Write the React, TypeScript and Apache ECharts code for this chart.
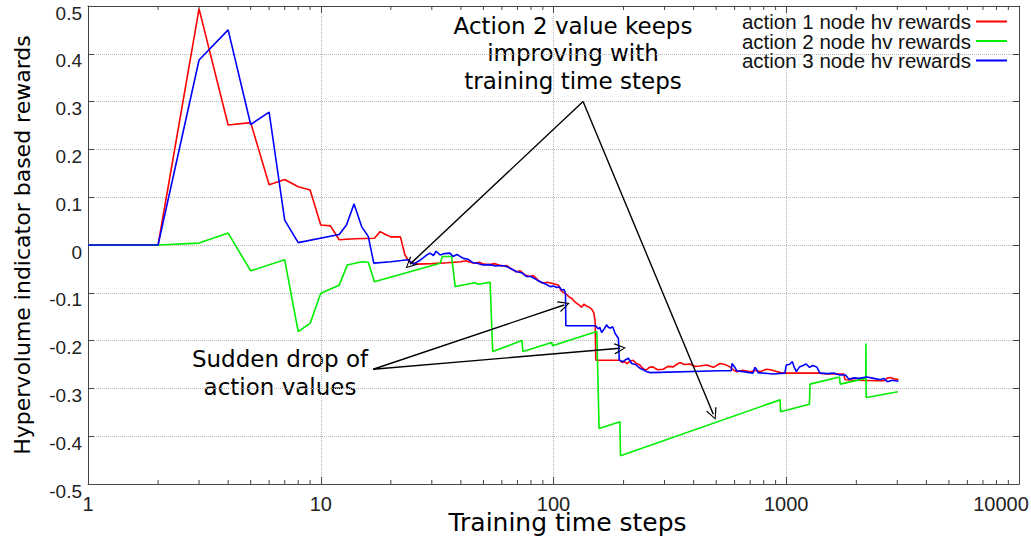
import React, { useEffect, useRef } from "react";
import * as echarts from "echarts";

const seriesNames = [
  "action 1 node hv rewards",
  "action 2 node hv rewards",
  "action 3 node hv rewards",
];
const seriesColors = ["#ff0000", "#00ee00", "#0000ff"];

const action1: [number, number][] = [
  [1, 0], [2, 0], [3, 0.494], [4, 0.251], [5, 0.256], [6, 0.126], [7, 0.137], [8, 0.122],
  [9, 0.115], [10, 0.042], [11, 0.04], [12, 0.011], [14, 0.013], [17, 0.014], [18, 0.028],
  [19, 0.022], [20, 0.017], [22, 0.017], [23, -0.021], [24, -0.035], [26, -0.04], [30, -0.039],
  [35, -0.037], [40, -0.035], [42, -0.033], [44, -0.036], [46, -0.038], [48, -0.036],
  [50, -0.04], [53, -0.041], [56, -0.039], [60, -0.044], [63, -0.043], [66, -0.05],
  [69, -0.056], [72, -0.054], [75, -0.062], [79, -0.066], [82, -0.064], [86, -0.074],
  [90, -0.08], [94, -0.078], [98, -0.08], [102, -0.082], [105, -0.084], [108, -0.096],
  [111, -0.1], [114, -0.104], [117, -0.109], [120, -0.112], [123, -0.118], [126, -0.122],
  [129, -0.126], [132, -0.13], [135, -0.124], [138, -0.127], [142, -0.13], [146, -0.134],
  [149, -0.142], [151, -0.16], [152, -0.241], [175, -0.241], [193, -0.241], [197, -0.246],
  [202, -0.244], [207, -0.248], [213, -0.243], [220, -0.241], [227, -0.248], [235, -0.251],
  [242, -0.258], [250, -0.262], [258, -0.256], [267, -0.255], [280, -0.261], [296, -0.26],
  [310, -0.254], [327, -0.255], [338, -0.25], [349, -0.246], [365, -0.25], [386, -0.249],
  [405, -0.254], [425, -0.253], [455, -0.251], [486, -0.256], [520, -0.248], [545, -0.25],
  [574, -0.255], [595, -0.262], [614, -0.265], [650, -0.262], [700, -0.265], [740, -0.262],
  [774, -0.265], [820, -0.26], [855, -0.261], [900, -0.264], [945, -0.267], [1000, -0.268],
  [1395, -0.268], [1445, -0.269], [1597, -0.27], [1767, -0.27], [1790, -0.282], [2000, -0.283],
  [2500, -0.284], [2650, -0.284], [2700, -0.279], [2800, -0.277], [2900, -0.28], [3000, -0.281],
  [3030, -0.283],
];

const action2: [number, number][] = [
  [1, 0], [2, 0], [3, 0.004], [4, 0.025], [5, -0.054], [7, -0.031], [8, -0.181], [9, -0.164],
  [10, -0.101], [12, -0.084], [13, -0.042], [15, -0.035], [16, -0.036], [17, -0.077],
  [32.6, -0.038], [33.3, -0.024], [36.5, -0.024], [37.8, -0.087], [46, -0.079], [47.5, -0.082],
  [53.4, -0.078], [54.8, -0.223], [73.1, -0.2], [74, -0.223], [98.3, -0.204], [99, -0.211],
  [153.5, -0.181], [157, -0.384], [193, -0.37], [194, -0.441], [941, -0.324], [945, -0.349],
  [1258, -0.333], [1265, -0.291], [1693, -0.276], [1705, -0.291], [2195, -0.279], [2200, -0.206],
  [2205, -0.319], [3016, -0.307],
];

const action3: [number, number][] = [
  [1, 0], [2, 0], [3, 0.387], [4, 0.45], [5, 0.252], [6, 0.278], [7, 0.052], [8, 0.005],
  [12, 0.022], [12.9, 0.042], [13.9, 0.086], [15, 0.038], [16, 0.018], [16.9, -0.038],
  [20, -0.035], [23.7, -0.031], [25, -0.04], [26.5, -0.033], [28.5, -0.021], [29.5, -0.017],
  [30.5, -0.022], [31.3, -0.013], [32.6, -0.021], [34, -0.018], [35.9, -0.017], [37, -0.024],
  [38.5, -0.02], [41, -0.028], [43, -0.03], [45, -0.037], [47, -0.038], [49.7, -0.042],
  [53, -0.041], [56.5, -0.044], [60, -0.043], [62.7, -0.045], [66, -0.05], [69.5, -0.056],
  [73, -0.058], [76.6, -0.066], [80, -0.066], [84, -0.072], [87.6, -0.077], [92, -0.081],
  [96.9, -0.087], [100, -0.086], [103.3, -0.089], [106, -0.088], [108.5, -0.094], [111, -0.093],
  [112.6, -0.101], [113, -0.169], [151.8, -0.169], [155.8, -0.176], [158, -0.172], [161, -0.183],
  [165, -0.176], [169, -0.167], [172, -0.172], [174.8, -0.174], [179.6, -0.171], [184, -0.185],
  [190, -0.195], [191.7, -0.241], [199.5, -0.244], [204, -0.24], [209.7, -0.237], [216.7, -0.248],
  [225, -0.25], [235.6, -0.258], [252, -0.265], [260.6, -0.267], [520, -0.263], [580, -0.263],
  [585, -0.248], [600, -0.255], [612, -0.263], [720, -0.268], [733, -0.256], [745, -0.26],
  [757, -0.267], [880, -0.27], [987, -0.268], [1000, -0.251], [1030, -0.25], [1063, -0.244],
  [1080, -0.255], [1105, -0.265], [1140, -0.255], [1180, -0.252], [1217, -0.249], [1260, -0.256],
  [1300, -0.252], [1352, -0.255], [1395, -0.268], [1500, -0.269], [1597, -0.268], [1700, -0.272],
  [1797, -0.272], [1860, -0.281], [1950, -0.278], [2050, -0.279], [2220, -0.276], [2375, -0.279],
  [2540, -0.282], [2620, -0.279], [2720, -0.286], [2850, -0.283], [3034, -0.285],
];

// log-axis minor tick positions (2..9 within each decade)
const minorTickMultipliers = [2, 3, 4, 5, 6, 7, 8, 9];
const decades = [1, 10, 100, 1000];

// annotation arrows (data coordinates)
const improveFrom: [number, number] = [134, 0.3];
const improveTo: [number, number][] = [[24.2, -0.04], [486, -0.354]];
const dropFrom: [number, number] = [16.8, -0.26];
const dropTo: [number, number][] = [[111, -0.1255], [193, -0.216]];

const improveText = "Action 2 value keeps\nimproving with\ntraining time steps";
const dropText = "Sudden drop of\naction values";

const SANS = "'Liberation Sans', Arial, sans-serif";
const DEJAVU = "'DejaVu Sans', sans-serif";
const chevron = "path://M0,0 L6,10 L5,11 L0,2 L-5,11 L-6,10 Z";

export default function App() {
  const ref = useRef<HTMLDivElement>(null);
  useEffect(() => {
    document.body.style.margin = "0";
    const chart = echarts.init(ref.current!, null, { renderer: "svg" });
    const minorTicks: [number, number][] = [];
    decades.forEach((d) => minorTickMultipliers.forEach((m) => minorTicks.push([m * d, 0])));

    const arrowLines = [
      ...improveTo.map((t) => [{ coord: improveFrom }, { coord: t }]),
      ...dropTo.map((t) => [{ coord: dropFrom }, { coord: t }]),
    ];

    const axisLineStyle = { color: "#444", width: 1 };
    const option: any = {
      animation: false,
      grid: {
        left: 88,
        right: 12,
        top: 6,
        bottom: 57,
        containLabel: false,
        outerBoundsMode: "none",
      },
      legend: {
        orient: "vertical",
        right: 19,
        top: 6,
        align: "right",
        itemGap: -1.5,
        itemWidth: 31,
        itemHeight: 2,
        icon: "rect",
        data: seriesNames,
        textStyle: { fontFamily: SANS, fontSize: 20.5, color: "#111", lineHeight: 18.5 },
      },
      xAxis: [
        {
          type: "log",
          logBase: 10,
          min: 1,
          max: 10000,
          name: "Training time steps",
          nameLocation: "middle",
          nameGap: 26,
          nameMoveOverlap: false,
          nameTextStyle: { fontFamily: DEJAVU, fontSize: 25, color: "#000", padding: [0, 0, 0, 28] },
          axisLine: { show: true, onZero: false, lineStyle: axisLineStyle },
          axisTick: { show: true, inside: true, length: 7, lineStyle: axisLineStyle },
          axisLabel: {
            fontFamily: SANS,
            fontSize: 20,
            color: "#222",
            margin: 10,
            showMinLabel: true,
            showMaxLabel: true,
            formatter: (v: number) => {
              const r = Math.round(v);
              return r >= 10000 ? `{last|${r}}` : String(r);
            },
            rich: {
              last: { fontFamily: SANS, fontSize: 20, color: "#222", padding: [0, 36, 0, 0] },
            },
          },
          splitLine: { show: true, lineStyle: { color: "#b5b5b5", type: "dotted", width: 1 } },
        },
        {
          type: "log",
          logBase: 10,
          min: 1,
          max: 10000,
          position: "top",
          axisLine: { show: true, onZero: false, lineStyle: axisLineStyle },
          axisTick: { show: true, inside: true, length: 7, lineStyle: axisLineStyle },
          axisLabel: { show: false },
          splitLine: { show: false },
        },
      ],
      yAxis: [
        {
          type: "value",
          min: -0.5,
          max: 0.5,
          interval: 0.1,
          name: "Hypervolume indicator based rewards",
          nameLocation: "middle",
          nameGap: 55,
          nameMoveOverlap: false,
          nameTextStyle: { fontFamily: DEJAVU, fontSize: 22, color: "#000" },
          axisLine: { show: true, onZero: false, lineStyle: axisLineStyle },
          axisTick: { show: true, inside: true, length: 6, lineStyle: axisLineStyle },
          axisLabel: {
            fontFamily: SANS,
            fontSize: 19,
            color: "#222",
            margin: 6,
            verticalAlign: "top",
            lineHeight: 14,
            formatter: (v: number) => String(Math.round(v * 10) / 10),
          },
          splitLine: { show: true, lineStyle: { color: "#b5b5b5", type: "dotted", width: 1 } },
        },
        {
          type: "value",
          min: -0.5,
          max: 0.5,
          interval: 0.1,
          position: "right",
          axisLine: { show: true, onZero: false, lineStyle: axisLineStyle },
          axisTick: { show: true, inside: true, length: 6, lineStyle: axisLineStyle },
          axisLabel: { show: false },
          splitLine: { show: false },
        },
      ],
      series: [
        {
          name: seriesNames[0],
          type: "line",
          data: action1,
          showSymbol: false,
          symbol: "none",
          color: seriesColors[0],
          lineStyle: { width: 1.6, color: seriesColors[0] },
          markLine: {
            silent: true,
            symbol: ["none", chevron],
            symbolSize: [11, 12],
            label: { show: false },
            lineStyle: { color: "#000", width: 1.4, type: "solid" },
            data: arrowLines,
          },
        },
        {
          name: seriesNames[1],
          type: "line",
          data: action2,
          showSymbol: false,
          symbol: "none",
          color: seriesColors[1],
          lineStyle: { width: 1.6, color: seriesColors[1] },
        },
        {
          name: seriesNames[2],
          type: "line",
          data: action3,
          showSymbol: false,
          symbol: "none",
          color: seriesColors[2],
          lineStyle: { width: 1.6, color: seriesColors[2] },
        },
        {
          name: "minor ticks",
          type: "custom",
          data: minorTicks,
          silent: true,
          encode: { x: 0, y: 1 },
          renderItem: (_p: any, api: any) => {
            const x = api.value(0);
            const b = api.coord([x, -0.5]);
            const t = api.coord([x, 0.5]);
            const st = { stroke: "#444", lineWidth: 1 };
            return {
              type: "group",
              children: [
                { type: "line", shape: { x1: b[0], y1: b[1], x2: b[0], y2: b[1] - 4 }, style: st },
                { type: "line", shape: { x1: t[0], y1: t[1], x2: t[0], y2: t[1] + 4 }, style: st },
              ],
            };
          },
        },
      ],
      graphic: [
        {
          type: "text",
          x: 573,
          y: 12,
          style: {
            text: improveText,
            fontFamily: DEJAVU,
            fontSize: 23,
            lineHeight: 27.5,
            fill: "#000",
            align: "center",
            verticalAlign: "top",
          },
        },
        {
          type: "text",
          x: 280,
          y: 345,
          style: {
            text: dropText,
            fontFamily: DEJAVU,
            fontSize: 23,
            lineHeight: 27.7,
            fill: "#000",
            align: "center",
            verticalAlign: "top",
          },
        },
      ],
    };
    chart.setOption(option);
    return () => chart.dispose();
  }, []);
  return <div ref={ref} style={{ width: 1031, height: 541 }} />;
}
